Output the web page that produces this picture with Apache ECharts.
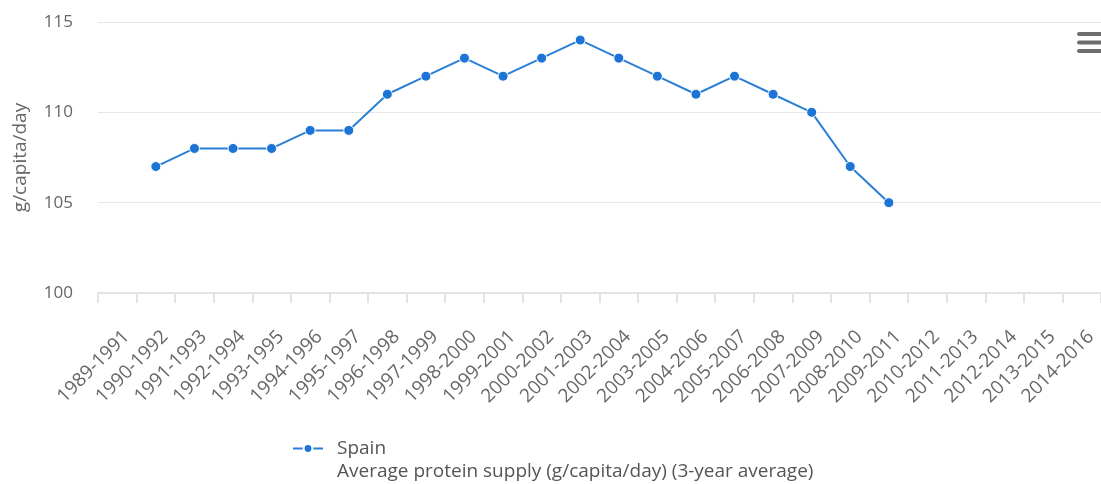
<!DOCTYPE html>
<html>
<head>
<meta charset="utf-8">
<script src="https://cdn.jsdelivr.net/npm/echarts@6/dist/echarts.min.js"></script>
<style>
  html, body { margin: 0; padding: 0; background: #fff; }
  #chart { width: 1101px; height: 484px; }
</style>
</head>
<body>
<div id="chart"></div>
<script>
  // three-year periods on the x axis
  var periods = [
    '1989-1991', '1990-1992', '1991-1993', '1992-1994', '1993-1995', '1994-1996',
    '1995-1997', '1996-1998', '1997-1999', '1998-2000', '1999-2001', '2000-2002',
    '2001-2003', '2002-2004', '2003-2005', '2004-2006', '2005-2007', '2006-2008',
    '2007-2009', '2008-2010', '2009-2011', '2010-2012', '2011-2013', '2012-2014',
    '2013-2015', '2014-2016'
  ]
  // g/capita/day, null where there is no value
  var spainProtein = [
    null, 107, 108, 108, 108, 109,
    109, 111, 112, 113, 112, 113,
    114, 113, 112, 111, 112, 111,
    110, 107, 105, null, null, null,
    null, null
  ]
  var yTicks = { min: 100, max: 115, step: 5 }

  var font = 'Open Sans'
  var chart = echarts.init(document.getElementById('chart'))
  chart.setOption({
    animation: false,
    textStyle: { fontFamily: font },
    grid: { left: 98, width: 1010, top: 22, bottom: 191 },
    title: {
      text: 'Average protein supply (g/capita/day) (3-year average)',
      left: 337,
      top: 462,
      padding: 0,
      textStyle: { fontFamily: font, fontSize: 19, fontWeight: 'normal', color: '#555' }
    },
    legend: {
      data: ['Spain'],
      left: 292,
      top: 439,
      padding: 0,
      itemWidth: 30,
      itemHeight: 11,
      itemGap: 10,
      textStyle: { fontFamily: font, fontSize: 19, color: '#555', padding: [2, 0, 0, 9] }
    },
    xAxis: {
      type: 'category',
      data: periods,
      boundaryGap: true,
      axisLine: { lineStyle: { color: '#e3e3e3', width: 2 } },
      axisTick: { show: true, length: 10, lineStyle: { color: '#e3e3e3', width: 2 } },
      axisLabel: {
        interval: 0,
        rotate: 45,
        margin: 50,
        padding: [0, -13, 0, 0],
        fontSize: 19,
        color: '#666'
      },
      splitLine: { show: false }
    },
    yAxis: {
      type: 'value',
      min: yTicks.min,
      max: yTicks.max,
      interval: yTicks.step,
      name: 'g/capita/day',
      nameLocation: 'middle',
      nameRotate: 90,
      nameGap: 68,
      nameTextStyle: { fontFamily: font, fontSize: 19, color: '#666' },
      axisLine: { show: false },
      axisTick: { show: false },
      axisLabel: { margin: 25, fontSize: 17, color: '#666' },
      splitLine: { lineStyle: { color: '#e6e6e6', width: 1 } }
    },
    series: [{
      name: 'Spain',
      type: 'line',
      data: spainProtein,
      symbol: 'circle',
      symbolSize: 10,
      connectNulls: false,
      lineStyle: { color: '#2a7fd6', width: 2 },
      itemStyle: { color: '#1b74d6', borderColor: '#fff', borderWidth: 1 }
    }],
    graphic: [{
      type: 'group',
      left: 1077,
      top: 32,
      children: [
        { type: 'rect', shape: { x: 0, y: 0, width: 30, height: 4, r: 2 }, style: { fill: '#6e6e6e' } },
        { type: 'rect', shape: { x: 0, y: 8.5, width: 30, height: 4, r: 2 }, style: { fill: '#6e6e6e' } },
        { type: 'rect', shape: { x: 0, y: 17, width: 30, height: 4, r: 2 }, style: { fill: '#6e6e6e' } }
      ]
    }]
  })
</script>
</body>
</html>
